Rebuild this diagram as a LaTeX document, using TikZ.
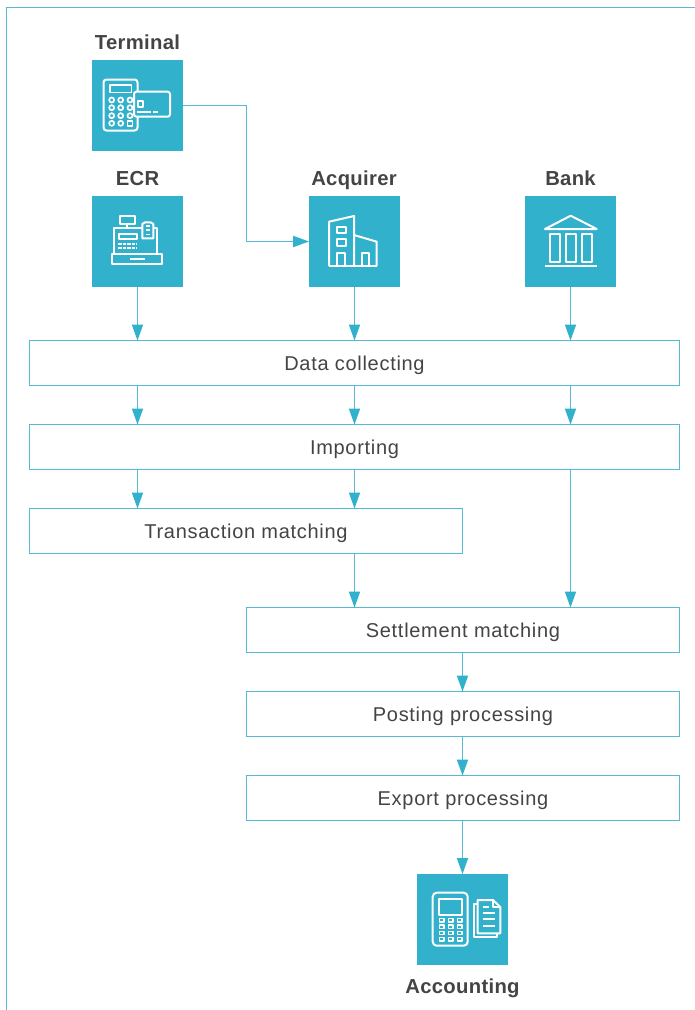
\documentclass[tikz,border=0pt]{standalone}
\usepackage{fontspec}
\setmainfont[LetterSpace=1.5]{Liberation Sans}
\newfontfamily\boxfont[LetterSpace=3.5]{Liberation Sans}
\usetikzlibrary{arrows.meta}
\definecolor{teal1}{HTML}{31B1CC}
\definecolor{line1}{HTML}{55BBD4}
\definecolor{txt}{HTML}{444444}
\tikzset{
  x=0.75pt,y=-0.75pt,
  frameline/.style={draw=line1,line width=0.85pt},
  procbox/.style={draw=line1,line width=0.85pt,fill=white,inner sep=0pt,outer sep=0pt,minimum height=45*0.75pt,text=txt,text height=11pt,text depth=0.5pt,font=\boxfont\fontsize{15}{17}\selectfont},
  iconbox/.style={fill=teal1,inner sep=0pt,outer sep=0pt,minimum width=91*0.75pt,minimum height=91*0.75pt},
  headlabel/.style={text=txt,inner sep=0pt,anchor=base,font=\fontsize{15.2}{17}\selectfont\bfseries},
  flow/.style={draw=line1,line width=0.85pt,-{Triangle[length=12pt,width=8.4pt,fill=teal1,color=teal1]}},
  glyph/.style={draw=white,line width=1.5pt,line join=round},
  glyphthin/.style={draw=white,line width=1.25pt,line join=round},
}
\begin{document}
\begin{tikzpicture}
\useasboundingbox (0,0) rectangle (695,1010);
\draw[frameline] (6.5,1010) -- (6.5,7.5) -- (695,7.5);

% icon squares
\node[iconbox] (term) at (137.5,105.5) {};
\node[iconbox] (ecr) at (137.5,241.5) {};
\node[iconbox] (acq) at (354.5,241.5) {};
\node[iconbox] (bank) at (570.5,241.5) {};
\node[iconbox] (acc) at (462.5,919.5) {};

% headings
\node[headlabel] (termL) at (137.5,49) {Terminal};
\node[headlabel] (ecrL) at (137.5,185) {ECR};
\node[headlabel] (acqL) at (354,185) {Acquirer};
\node[headlabel] (bankL) at (570.5,185) {Bank};
\node[headlabel] (accL) at (462.5,993) {Accounting};

% process boxes
\node[procbox,minimum width=650*0.75pt] (dc) at (354.5,363) {Data collecting};
\node[procbox,minimum width=650*0.75pt] (imp) at (354.5,447) {Importing};
\node[procbox,minimum width=433*0.75pt] (tm) at (246,531) {Transaction matching};
\node[procbox,minimum width=433*0.75pt] (sm) at (463,630) {Settlement matching};
\node[procbox,minimum width=433*0.75pt] (pp) at (463,714) {Posting processing};
\node[procbox,minimum width=433*0.75pt] (ep) at (463,798) {Export processing};

% connectors
\coordinate (elbow) at (246.5,170);
\draw[flow] (term.east) -| (elbow) |- (acq.west);
\draw[flow] (ecr.south) -- (dc.north -| ecr.south);
\draw[flow] (acq.south) -- (dc.north -| acq.south);
\draw[flow] (bank.south) -- (dc.north -| bank.south);
\draw[flow] (dc.south -| ecr.south) -- (imp.north -| ecr.south);
\draw[flow] (dc.south -| acq.south) -- (imp.north -| acq.south);
\draw[flow] (dc.south -| bank.south) -- (imp.north -| bank.south);
\draw[flow] (imp.south -| ecr.south) -- (tm.north -| ecr.south);
\draw[flow] (imp.south -| acq.south) -- (tm.north -| acq.south);
\draw[flow] (tm.south -| acq.south) -- (sm.north -| acq.south);
\draw[flow] (imp.south -| bank.south) -- (sm.north -| bank.south);
\draw[flow] (sm.south -| acc.north) -- (pp.north -| acc.north);
\draw[flow] (pp.south -| acc.north) -- (ep.north -| acc.north);
\draw[flow] (ep.south -| acc.north) -- (acc.north);

% Terminal icon
\draw[glyph,rounded corners=2.2pt] (103.5,79.5) rectangle (137.5,130.5);
\draw[glyphthin] (110,85) rectangle (131.5,92.5);
\foreach \kx in {111.7,120.7,130}
  \foreach \ky in {100,107.7,115.7}
    \draw[glyphthin] (\kx,\ky) circle (2.5);
\draw[glyphthin] (111.7,123.3) circle (2.5);
\draw[glyphthin] (120.7,123.3) circle (2.5);
\draw[glyphthin] (127.5,120.8) rectangle (132.5,125.8);
\draw[glyph,fill=teal1,rounded corners=1.8pt] (134,91.7) rectangle (170,116.7);
\draw[glyphthin] (137.7,101) rectangle (143.3,107.3);
\draw[glyphthin] (137.3,112) -- (150.7,112) (153.3,112) -- (158.3,112);

% ECR icon
\draw[glyph] (119.5,215.7) rectangle (135.3,223.7);
\draw[glyphthin] (127.3,223.7) -- (127.3,228.3);
\draw[glyph] (114.3,253.3) -- (114.3,228.3) -- (142.3,228.3);
\draw[glyph] (153.3,228.3) -- (157.3,228.3) -- (157.3,253.3);
\draw[glyph,fill=teal1] (142.3,238.3) -- (142.3,224) -- (145,222.3) -- (150.5,222.3) -- (153.3,224) -- (153.3,238.3) -- cycle;
\draw[glyphthin] (145.5,230) -- (150,230) (145.5,234.5) -- (150,234.5) (145.5,225.7) -- (150,225.7);
\draw[glyph] (119.3,233.5) rectangle (136.7,239.2);
\draw[glyphthin,dash pattern=on 2.6pt off 0.8pt] (118.3,243.7) -- (137,243.7) (118.3,248.3) -- (137,248.3);
\draw[glyph] (112.3,253.5) rectangle (162.3,264);
\draw[glyph] (130,259) -- (145,259);

% Acquirer icon
\draw[glyph] (329,266) -- (329,221.7) -- (354,216) -- (354,266);
\draw[glyph] (354,235) -- (376.7,241.7) -- (376.7,266);
\draw[glyph] (329,266) -- (376.7,266);
\draw[glyph] (337,226.7) rectangle (346,233.3);
\draw[glyph] (337,239.3) rectangle (346,246);
\draw[glyph] (337.3,266) -- (337.3,253.3) -- (345,253.3) -- (345,266);
\draw[glyph] (361.7,266) -- (361.7,252.5) -- (369,252.5) -- (369,266);

% Bank icon
\draw[glyph] (545,229) -- (570.7,215.7) -- (596.7,229) -- cycle;
\draw[glyph] (550,233.5) rectangle (560,261.5);
\draw[glyph] (565.7,233.5) rectangle (575.7,261.5);
\draw[glyph] (581.7,233.5) rectangle (591.7,261.5);
\draw[glyph] (545,266) -- (597,266);

% Accounting icon
\draw[glyph,rounded corners=3pt] (432.7,892.7) rectangle (467.7,945.7);
\draw[glyph] (439.3,898.5) rectangle (462.3,915);
\foreach \kx in {441.7,450.7,459.7}
  \foreach \ky in {920.3,926.7,933,939.3}
    \draw[glyphthin,line width=1pt] (\kx-2.4,\ky-1.6) rectangle (\kx+2.4,\ky+1.6);
\draw[glyphthin] (477.7,904.3) -- (474,904.3) -- (474,936.7) -- (496.7,936.7) -- (496.7,933.3);
\draw[glyph] (477.7,933.3) -- (477.7,900) -- (493,900) -- (500.3,907) -- (500.3,933.3) -- cycle;
\draw[glyphthin] (493,900) -- (493,907) -- (500.3,907);
\draw[glyphthin] (482.7,907) -- (489,907) (482.7,912.7) -- (495,912.7) (482.7,919.3) -- (495,919.3) (482.7,925.7) -- (495,925.7);
\end{tikzpicture}
\end{document}
